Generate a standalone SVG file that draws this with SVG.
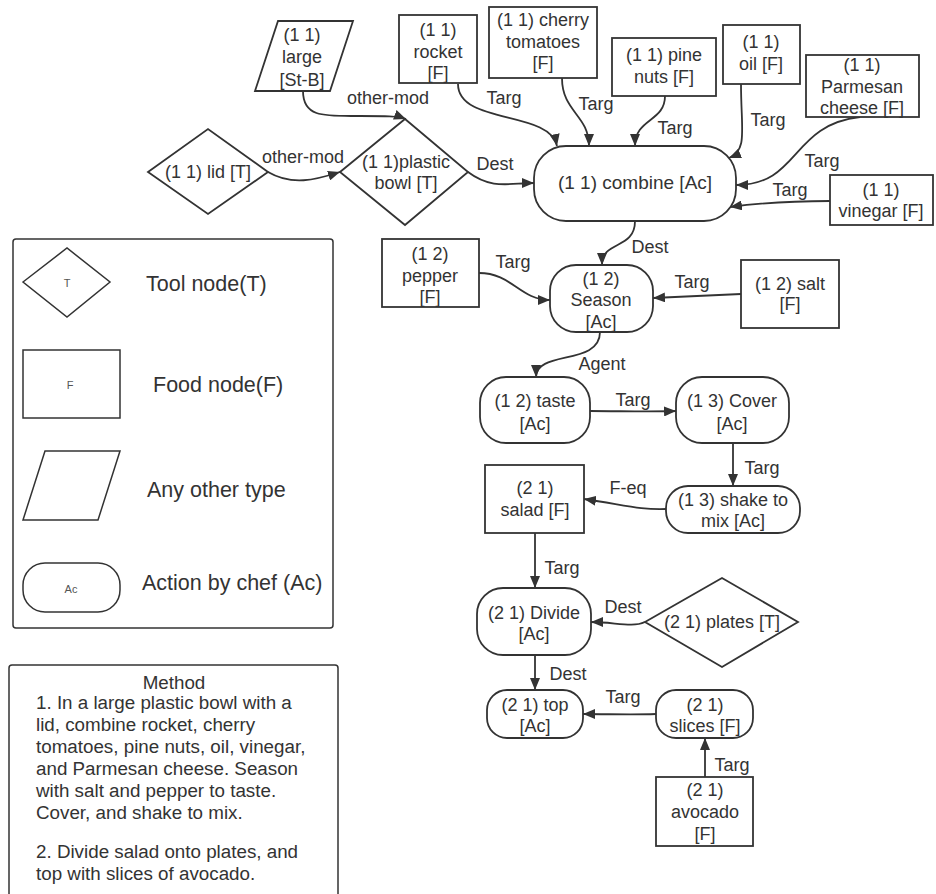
<svg xmlns="http://www.w3.org/2000/svg" width="936" height="894" viewBox="0 0 936 894">
  <defs>
    <marker id="arr" viewBox="0 0 12 10" refX="12" refY="5" markerWidth="12" markerHeight="10" markerUnits="userSpaceOnUse" orient="auto">
      <path d="M0,0 L12,5 L0,10 z" fill="#333"/>
    </marker>
    <style>
      .shape { fill: #fff; stroke: #333; stroke-width: 1.8; }
      .lg { fill: none; stroke: #333; stroke-width: 1.5; }
      .edge { fill: none; stroke: #333; stroke-width: 1.8; marker-end: url(#arr); }
      text { font-family: "Liberation Sans", Arial, sans-serif; fill: #333; }
      .n { font-size: 18px; text-anchor: middle; }
      .e { font-size: 18px; text-anchor: middle; }
      .leg { font-size: 21.5px; }
      .tiny { font-size: 11px; text-anchor: middle; fill: #555; }
      .m { font-size: 18.8px; }
    </style>
  </defs>
  <rect width="936" height="894" fill="#fff"/>

  <!-- connectors -->
  <g id="connectors">
    <path class="edge" d="M303,91 C303,118 325,116 360,116 C385,116 398,116 406,119"/>
    <path class="edge" d="M268,172 C292,186 315,180 340,172"/>
    <path class="edge" d="M468,172 C492,190 510,183 534,183"/>
    <path class="edge" d="M458,84 C458,125 550,110 557,146"/>
    <path class="edge" d="M562,78 C562,112 589,115 589,146"/>
    <path class="edge" d="M665,96 C665,122 635,118 635,146"/>
    <path class="edge" d="M741,84 C741,130 748,150 729,158"/>
    <path class="edge" d="M860,117 C790,125 800,185 736,185"/>
    <path class="edge" d="M830,201 C790,201 760,203 730,207"/>
    <path class="edge" d="M635,221 C635,250 602,240 602,265"/>
    <path class="edge" d="M479,273 C512,273 520,300 550,300"/>
    <path class="edge" d="M741,294 L653,298"/>
    <path class="edge" d="M600,332 C600,366 536,350 536,377"/>
    <path class="edge" d="M590,411 C620,411 650,412 676,411"/>
    <path class="edge" d="M733,443 L733,486"/>
    <path class="edge" d="M666,509 C640,510 625,505 584,499"/>
    <path class="edge" d="M535,533 L535,588"/>
    <path class="edge" d="M645,622 C632,628 615,622 591,622"/>
    <path class="edge" d="M535,655 L535,690"/>
    <path class="edge" d="M656,714 C630,715 610,714 583,714"/>
    <path class="edge" d="M705,777 L705,738"/>

    <text class="e" x="388" y="104">other-mod</text>
    <text class="e" x="303" y="163">other-mod</text>
    <text class="e" x="495" y="170">Dest</text>
    <text class="e" x="504" y="104">Targ</text>
    <text class="e" x="596" y="110">Targ</text>
    <text class="e" x="675" y="134">Targ</text>
    <text class="e" x="768" y="126">Targ</text>
    <text class="e" x="822" y="167">Targ</text>
    <text class="e" x="790" y="196">Targ</text>
    <text class="e" x="650" y="253">Dest</text>
    <text class="e" x="513" y="268">Targ</text>
    <text class="e" x="692" y="288">Targ</text>
    <text class="e" x="602" y="370">Agent</text>
    <text class="e" x="633" y="406">Targ</text>
    <text class="e" x="762" y="474">Targ</text>
    <text class="e" x="628" y="494">F-eq</text>
    <text class="e" x="562" y="574">Targ</text>
    <text class="e" x="623" y="613">Dest</text>
    <text class="e" x="568" y="680">Dest</text>
    <text class="e" x="623" y="703">Targ</text>
    <text class="e" x="732" y="771">Targ</text>
  </g>

  <!-- top row -->
  <g id="large">
    <polygon class="shape" points="278,21 353,21 330,91 255,91"/>
    <text class="n" x="302" y="41">(1 1)</text>
    <text class="n" x="302" y="63">large</text>
    <text class="n" x="302" y="86">[St-B]</text>
  </g>
  <g id="rocket">
    <rect class="shape" x="399" y="15" width="78" height="68"/>
    <text class="n" x="438" y="36">(1 1)</text>
    <text class="n" x="438" y="58">rocket</text>
    <text class="n" x="438" y="79">[F]</text>
  </g>
  <g id="cherry-tomatoes">
    <rect class="shape" x="489" y="7" width="108" height="71"/>
    <text class="n" x="543" y="26">(1 1) cherry</text>
    <text class="n" x="543" y="48">tomatoes</text>
    <text class="n" x="543" y="69">[F]</text>
  </g>
  <g id="pine-nuts">
    <rect class="shape" x="612" y="38" width="104" height="58"/>
    <text class="n" x="664" y="61">(1 1) pine</text>
    <text class="n" x="664" y="83">nuts [F]</text>
  </g>
  <g id="oil">
    <rect class="shape" x="723" y="25" width="77" height="59"/>
    <text class="n" x="761" y="48">(1 1)</text>
    <text class="n" x="761" y="70">oil [F]</text>
  </g>
  <g id="parmesan">
    <rect class="shape" x="806" y="55" width="113" height="62"/>
    <text class="n" x="862" y="71">(1 1)</text>
    <text class="n" x="862" y="93">Parmesan</text>
    <text class="n" x="862" y="114">cheese [F]</text>
  </g>
  <g id="vinegar">
    <rect class="shape" x="830" y="175" width="103" height="50"/>
    <text class="n" x="881" y="196">(1 1)</text>
    <text class="n" x="881" y="217">vinegar [F]</text>
  </g>
  <g id="lid">
    <polygon class="shape" points="148,172 208,129 268,172 208,214"/>
    <text class="n" x="208" y="178">(1 1) lid [T]</text>
  </g>
  <g id="plastic-bowl">
    <polygon class="shape" points="340,172 405,119 468,172 405,225"/>
    <text class="n" x="406" y="168">(1 1)plastic</text>
    <text class="n" x="406" y="189">bowl [T]</text>
  </g>
  <g id="combine">
    <rect class="shape" x="534" y="146" width="202" height="75" rx="32"/>
    <text class="n" x="635" y="189" style="font-size:19px">(1 1) combine [Ac]</text>
  </g>

  <!-- step 1 continued -->
  <g id="pepper">
    <rect class="shape" x="382" y="239" width="97" height="68"/>
    <text class="n" x="430" y="260">(1 2)</text>
    <text class="n" x="430" y="282">pepper</text>
    <text class="n" x="430" y="303">[F]</text>
  </g>
  <g id="season">
    <rect class="shape" x="550" y="265" width="103" height="67" rx="26"/>
    <text class="n" x="601" y="285">(1 2)</text>
    <text class="n" x="601" y="306">Season</text>
    <text class="n" x="601" y="328">[Ac]</text>
  </g>
  <g id="salt">
    <rect class="shape" x="741" y="260" width="98" height="68"/>
    <text class="n" x="790" y="290">(1 2) salt</text>
    <text class="n" x="790" y="310">[F]</text>
  </g>
  <g id="taste">
    <rect class="shape" x="480" y="377" width="110" height="66" rx="26"/>
    <text class="n" x="535" y="407">(1 2) taste</text>
    <text class="n" x="535" y="430">[Ac]</text>
  </g>
  <g id="cover">
    <rect class="shape" x="676" y="377" width="113" height="66" rx="26"/>
    <text class="n" x="732" y="407">(1 3) Cover</text>
    <text class="n" x="732" y="430">[Ac]</text>
  </g>
  <g id="shake">
    <rect class="shape" x="666" y="486" width="134" height="47" rx="22"/>
    <text class="n" x="733" y="506">(1 3) shake to</text>
    <text class="n" x="733" y="527">mix [Ac]</text>
  </g>

  <!-- step 2 -->
  <g id="salad">
    <rect class="shape" x="485" y="465" width="99" height="68"/>
    <text class="n" x="535" y="494">(2 1)</text>
    <text class="n" x="535" y="516">salad [F]</text>
  </g>
  <g id="divide">
    <rect class="shape" x="477" y="588" width="114" height="67" rx="26"/>
    <text class="n" x="534" y="619">(2 1) Divide</text>
    <text class="n" x="534" y="640">[Ac]</text>
  </g>
  <g id="plates">
    <polygon class="shape" points="645,622 722,578 798,622 722,667"/>
    <text class="n" x="722" y="628">(2 1) plates [T]</text>
  </g>
  <g id="top">
    <rect class="shape" x="487" y="690" width="96" height="48" rx="20"/>
    <text class="n" x="535" y="711">(2 1) top</text>
    <text class="n" x="535" y="732">[Ac]</text>
  </g>
  <g id="slices">
    <rect class="shape" x="656" y="690" width="97" height="48" rx="20"/>
    <text class="n" x="705" y="711">(2 1)</text>
    <text class="n" x="705" y="732">slices [F]</text>
  </g>
  <g id="avocado">
    <rect class="shape" x="656" y="777" width="97" height="69"/>
    <text class="n" x="705" y="796">(2 1)</text>
    <text class="n" x="705" y="818">avocado</text>
    <text class="n" x="705" y="840">[F]</text>
  </g>

  <!-- legend -->
  <g id="legend">
    <rect class="lg" x="13" y="239" width="320" height="389" rx="3"/>
    <polygon class="lg" points="23,282 67,248 110,282 67,317"/>
    <text class="tiny" x="67" y="287">T</text>
    <text class="leg" x="146" y="291">Tool node(T)</text>
    <rect class="lg" x="23" y="350" width="97" height="68"/>
    <text class="tiny" x="70" y="389">F</text>
    <text class="leg" x="153" y="392">Food node(F)</text>
    <polygon class="lg" points="45,451 120,451 98,520 23,520"/>
    <text class="leg" x="147" y="497">Any other type</text>
    <rect class="lg" x="23" y="563" width="97" height="49" rx="22"/>
    <text class="tiny" x="71" y="593">Ac</text>
    <text class="leg" x="142" y="590">Action by chef (Ac)</text>
  </g>

  <!-- method -->
  <g id="method">
    <rect class="lg" x="9" y="665" width="329" height="260" rx="3"/>
    <text class="m" x="174" y="689" text-anchor="middle">Method</text>
    <text class="m" x="36" y="709">1. In a large plastic bowl with a</text>
    <text class="m" x="36" y="731">lid, combine rocket, cherry</text>
    <text class="m" x="36" y="753">tomatoes, pine nuts, oil, vinegar,</text>
    <text class="m" x="36" y="775">and Parmesan cheese. Season</text>
    <text class="m" x="36" y="797">with salt and pepper to taste.</text>
    <text class="m" x="36" y="819">Cover, and shake to mix.</text>
    <text class="m" x="36" y="858">2. Divide salad onto plates, and</text>
    <text class="m" x="36" y="880">top with slices of avocado.</text>
  </g>
</svg>
